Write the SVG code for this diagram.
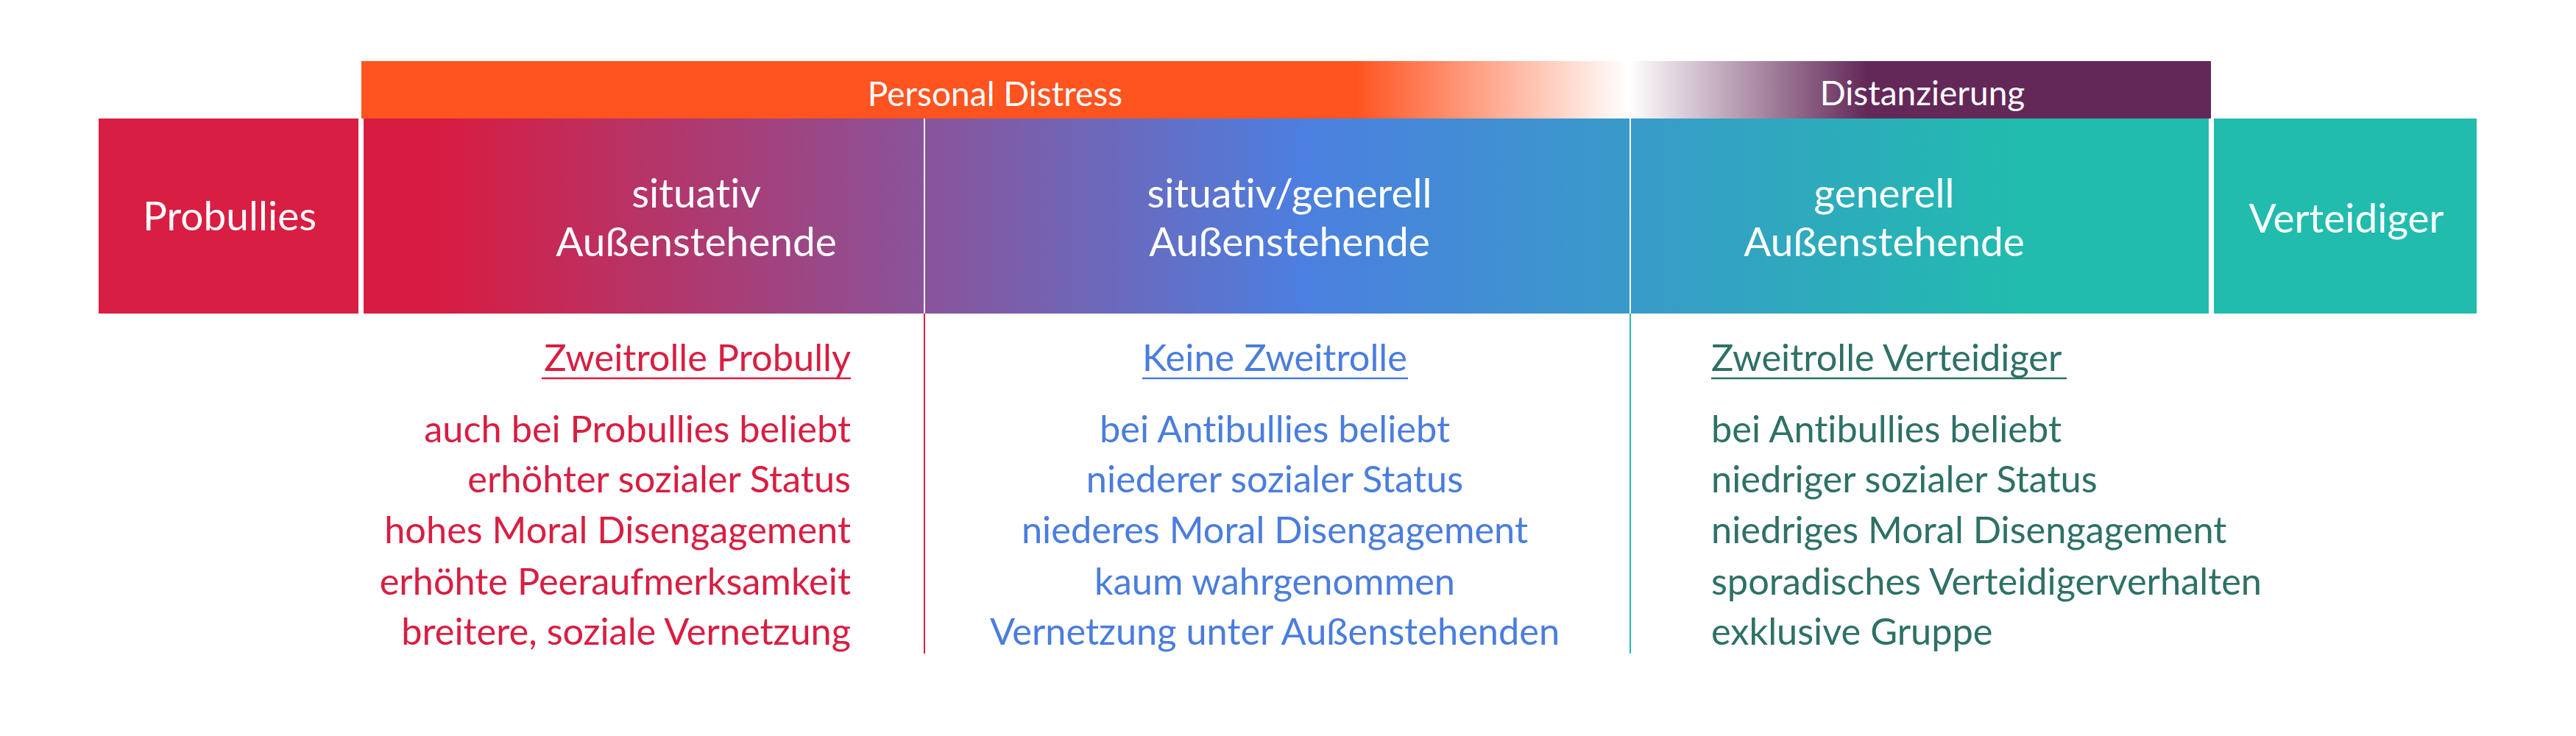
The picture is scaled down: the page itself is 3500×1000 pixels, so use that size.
<svg xmlns="http://www.w3.org/2000/svg" width="3500" height="1000" viewBox="0 0 3500 1000">
  <defs>
    <linearGradient id="gMain" gradientUnits="userSpaceOnUse" x1="494" y1="0" x2="3001" y2="0">
      <stop offset="0.04" stop-color="#D81C41"/>
      <stop offset="0.51" stop-color="#4C7FE0"/>
      <stop offset="0.90" stop-color="#21BCAE"/>
    </linearGradient>
    <linearGradient id="gHead" gradientUnits="userSpaceOnUse" x1="491" y1="0" x2="3004" y2="0">
      <stop offset="0.537" stop-color="#FF5320"/>
      <stop offset="0.685" stop-color="#FFFFFF"/>
      <stop offset="0.814" stop-color="#632858"/>
    </linearGradient>
    <style>
      text { font-family: Lato, "Liberation Sans", sans-serif; font-variant-ligatures: none; font-feature-settings: "liga" 0, "clig" 0; }
      .hd { fill: #FFFFFF; font-size: 46px; text-anchor: middle; }
      .bx { fill: #FFFFFF; font-size: 55px; text-anchor: middle; }
      .lo { font-size: 50.5px; }
      .red { fill: #D81E42; }
      .blue { fill: #4A7DDE; }
      .grn { fill: #2E7166; }
    </style>
  </defs>

  <g id="header-bar">
    <rect x="491" y="83" width="2513" height="78" fill="url(#gHead)"/>
    <text class="hd" x="1352" y="144">Personal Distress</text>
    <text class="hd" x="2612" y="143">Distanzierung</text>
  </g>

  <g id="probullies">
    <rect x="134" y="161" width="353" height="265" fill="#D81E42"/>
    <text class="bx" x="312" y="313">Probullies</text>
  </g>

  <g id="main-bar">
    <rect x="494" y="161" width="2507" height="265" fill="url(#gMain)"/>
  </g>

  <g id="situativ">
    <text class="bx" x="946" y="282">situativ</text>
    <text class="bx" x="946" y="348">Außenstehende</text>
  </g>

  <g id="situativ-generell">
    <text class="bx" x="1752" y="282">situativ/generell</text>
    <text class="bx" x="1752" y="348">Außenstehende</text>
  </g>

  <g id="generell">
    <text class="bx" x="2560" y="282">generell</text>
    <text class="bx" x="2560" y="348">Außenstehende</text>
  </g>

  <g id="verteidiger">
    <rect x="3008" y="161" width="357" height="265" fill="#21BCAE"/>
    <text class="bx" x="3188" y="316">Verteidiger</text>
  </g>

  <g id="dividers">
    <line x1="1256" y1="161" x2="1256" y2="426" stroke="#FFFFFF" stroke-width="2"/>
    <line x1="1256" y1="426" x2="1256" y2="888" stroke="#D81E42" stroke-width="2"/>
    <line x1="2215" y1="161" x2="2215" y2="426" stroke="#FFFFFF" stroke-width="2"/>
    <line x1="2215" y1="426" x2="2215" y2="888" stroke="#21BCAE" stroke-width="2"/>
  </g>

  <g id="col-probully" class="lo red" text-anchor="end">
    <text x="1156" y="504">Zweitrolle Probully</text>
    <line x1="736" y1="514" x2="1156" y2="514" stroke="#D81E42" stroke-width="2.5"/>
    <text x="1156" y="601">auch bei Probullies beliebt</text>
    <text x="1156" y="669">erhöhter sozialer Status</text>
    <text x="1156" y="738">hohes Moral Disengagement</text>
    <text x="1156" y="808">erhöhte Peeraufmerksamkeit</text>
    <text x="1156" y="876">breitere, soziale Vernetzung</text>
  </g>

  <g id="col-keine" class="lo blue" text-anchor="middle">
    <text x="1732" y="504">Keine Zweitrolle</text>
    <line x1="1552" y1="514" x2="1913" y2="514" stroke="#4A7DDE" stroke-width="2.5"/>
    <text x="1732" y="601">bei Antibullies beliebt</text>
    <text x="1732" y="669">niederer sozialer Status</text>
    <text x="1732" y="738">niederes Moral Disengagement</text>
    <text x="1732" y="808">kaum wahrgenommen</text>
    <text x="1732" y="876">Vernetzung unter Außenstehenden</text>
  </g>

  <g id="col-verteidiger" class="lo grn" text-anchor="start">
    <text x="2325" y="504">Zweitrolle Verteidiger</text>
    <line x1="2325" y1="514" x2="2808" y2="514" stroke="#2E7166" stroke-width="2.5"/>
    <text x="2325" y="601">bei Antibullies beliebt</text>
    <text x="2325" y="669">niedriger sozialer Status</text>
    <text x="2325" y="738">niedriges Moral Disengagement</text>
    <text x="2325" y="808">sporadisches Verteidigerverhalten</text>
    <text x="2325" y="876">exklusive Gruppe</text>
  </g>
</svg>
